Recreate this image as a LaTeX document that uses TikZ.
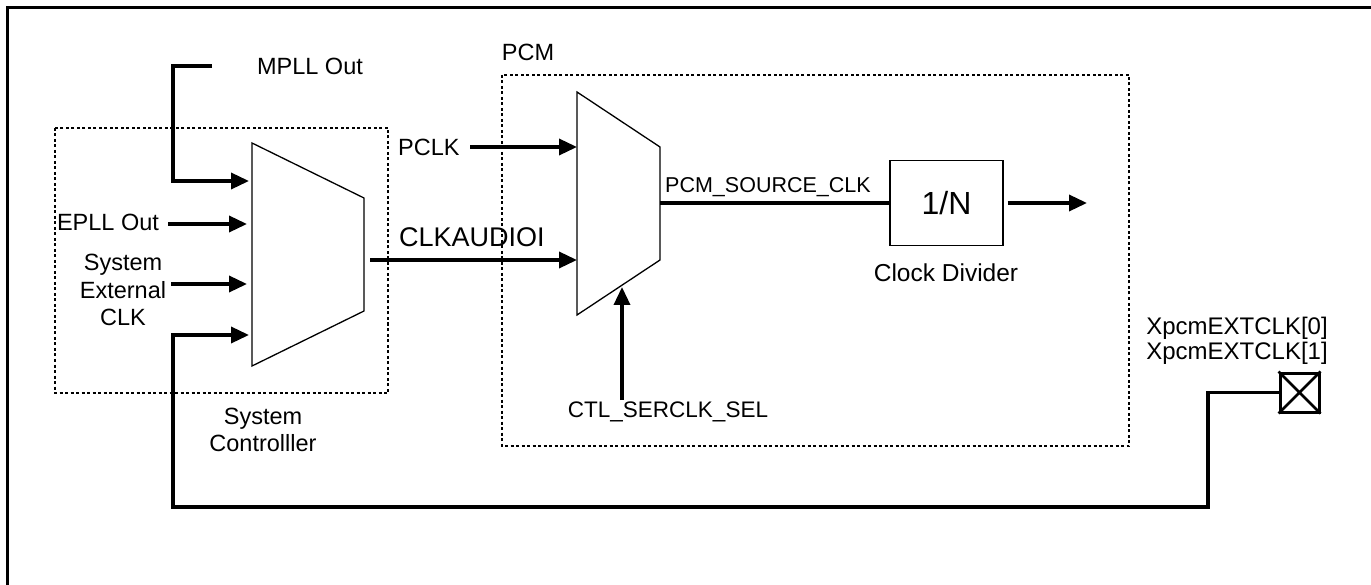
\documentclass[tikz,border=0pt]{standalone}
\usepackage{fontspec}
\setmainfont{Liberation Sans}
\usetikzlibrary{arrows.meta}
\begin{document}
\begin{tikzpicture}[x=1pt,y=-1pt,
  wire/.style={line width=3.5pt},
  arr/.style={wire,-{Triangle[length=18pt,width=16pt]}},
  muxbox/.style={line width=1.3pt, line join=miter},
  dotbox/.style={line width=1.8pt, dash pattern=on 3pt off 2.5pt},
  lbl/.style={font=\fontsize{23.5}{27.5}\selectfont, inner sep=0pt},
  biglbl/.style={font=\fontsize{27}{30}\selectfont, inner sep=0pt},
  divbox/.style={draw, line width=1.3pt, minimum width=113pt, minimum height=85pt, inner sep=0pt, font=\fontsize{32}{36}\selectfont},
  padbox/.style={draw, line width=3pt, minimum width=39pt, minimum height=39pt, inner sep=0pt},
]
\useasboundingbox (0,0) rectangle (1371,585);
% outer frame
\draw[line width=3pt] (7,585) -- (7,8) -- (1371,8);

% group boxes
\draw[dotbox] (55,128) rectangle (388,393);
\draw[dotbox] (502,75) rectangle (1129,446);

% mux 1 (system controller)
\draw[muxbox] (252,143) -- (364,198) -- (364,311) -- (252,366) -- cycle;
\coordinate (m1in1) at (249,181);
\coordinate (m1in2) at (247,224);
\coordinate (m1in3) at (247,284);
\coordinate (m1in4) at (249,335);
\coordinate (m1out) at (370,260);

% mux 2 (PCM)
\draw[muxbox] (577,92) -- (660,147) -- (660,260) -- (577,315) -- cycle;
\coordinate (m2in1) at (577,147);
\coordinate (m2in2) at (577,260);
\coordinate (m2sel) at (622,287);
\coordinate (m2out) at (660,203);

% labels
\node[lbl] (mpll) at (310,66) {MPLL Out};
\node[lbl] (epll) at (108,222) {EPLL Out};
\node[lbl, align=center] (sysext) at (123,290) {System\\External\\CLK};
\node[lbl, align=center] (sysctl) at (263,430) {System\\Controlller};
\node[lbl] (pcm) at (528,52) {PCM};
\node[lbl, anchor=west] (pclk) at (398,147) {PCLK};
\node[biglbl, anchor=west] (clkaudio) at (399,237) {CLKAUDIOI};
\node[lbl, font=\fontsize{21.5}{24}\selectfont, anchor=west] (pcmsrc) at (665,187) {PCM\_SOURCE\_CLK};
\node[lbl, font=\fontsize{22.5}{24}\selectfont] (ctl) at (668,412) {CTL\_SERCLK\_SEL};
\node[divbox] (div) at (946.5,203) {1/N};
\node[lbl, font=\fontsize{24.5}{27}\selectfont] (divlbl) at (946,273) {Clock Divider};
\node[lbl, align=center, font=\fontsize{24}{26}\selectfont] (xpcm) at (1237,341) {XpcmEXTCLK[0]\\[-1.5pt]XpcmEXTCLK[1]};
\node[padbox] (pad) at (1299.5,392.5) {};
\draw[line width=2.5pt] (pad.north west) -- (pad.south east) (pad.north east) -- (pad.south west);

% connector free ends
\coordinate (mpllend) at (212,66);
\coordinate (epllend) at (168,224);
\coordinate (sysextend) at (171,284);
\coordinate (pclkend) at (470,147);
\coordinate (ctlend) at (622,400);
\coordinate (divout) at (1087,203);

% connectors
\draw[arr] (mpllend) -- (173,66) |- (m1in1);
\draw[arr] (epllend) -- (m1in2);
\draw[arr] (sysextend) -- (m1in3);
\draw[arr] (pad.west) -- (1208,392.5) -- (1208,507) -- (173,507) |- (m1in4);
\draw[arr] (m1out) -- (m2in2);
\draw[arr] (pclkend) -- (m2in1);
\draw[arr] (ctlend) -- (m2sel);
\draw[wire] (m2out) -- (div.west);
\draw[arr] ([xshift=4pt]div.east) -- (divout);
\end{tikzpicture}
\end{document}
